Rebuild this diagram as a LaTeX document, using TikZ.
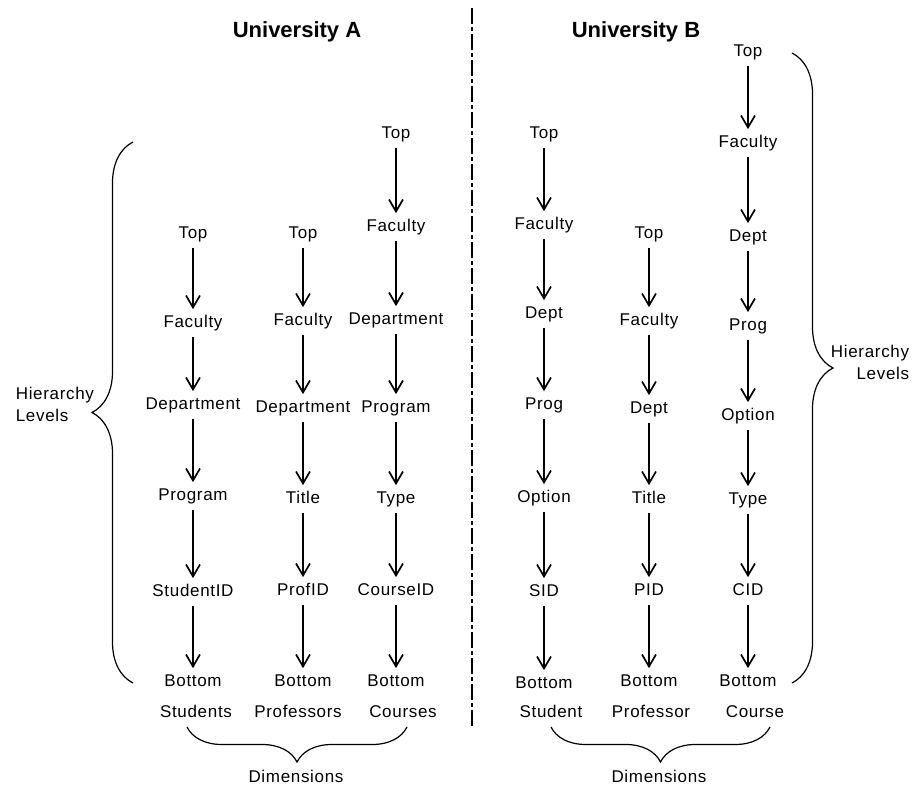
\documentclass[tikz,border=0pt]{standalone}
\usepackage{fontspec}
\setmainfont{Liberation Sans}
\newfontfamily\lvlfont{Liberation Sans}[LetterSpace=4]
\usetikzlibrary{arrows.meta,decorations.pathreplacing}
\tikzset{
    lvl/.style={font=\lvlfont\fontsize{17}{22}\selectfont,
        inner sep=0pt, text height=12pt, text depth=3pt, minimum height=26pt},
    note/.style={font=\lvlfont\fontsize{17}{22}\selectfont, inner sep=0pt},
    uni/.style={font=\bfseries\fontsize{22}{24}\selectfont},
    brc/.style={decorate, line width=1.2pt},
}
\begin{document}
\begin{tikzpicture}[x=1pt,y=-1pt,>={Straight Barb[length=12pt,width=14pt]},
        line width=1.7pt]
    \useasboundingbox (0,0) rectangle (914,790);
    % titles and separator
    \node[uni] (unia) at (297,32) {University A};
    \node[uni] (unib) at (636,32) {University B};
    \draw[line width=1.5pt, dash pattern=on 16pt off 3pt on 4pt off 3pt]
        (472,8) -- (472,728);
    % University A
    \node[lvl] (a1top) at (193,234) {Top};
    \node[lvl] (a1fac) at (193,323) {Faculty};
    \node[lvl] (a1dep) at (193,405) {Department};
    \node[lvl] (a1prg) at (193,496) {Program};
    \node[lvl] (a1sid) at (193,592) {StudentID};
    \node[lvl] (a1bot) at (193,682) {Bottom};
    \node[lvl] (a2top) at (303,234) {Top};
    \node[lvl] (a2fac) at (303,321) {Faculty};
    \node[lvl] (a2dep) at (303,408) {Department};
    \node[lvl] (a2tit) at (303,499) {Title};
    \node[lvl] (a2pid) at (303,591) {ProfID};
    \node[lvl] (a2bot) at (303,682) {Bottom};
    \node[lvl] (a3top) at (396,134) {Top};
    \node[lvl] (a3fac) at (396,227) {Faculty};
    \node[lvl] (a3dep) at (396,320) {Department};
    \node[lvl] (a3prg) at (396,408) {Program};
    \node[lvl] (a3typ) at (396,499) {Type};
    \node[lvl] (a3cid) at (396,591) {CourseID};
    \node[lvl] (a3bot) at (396,682) {Bottom};
    \draw[->] (a1top) -- (a1fac); \draw[->] (a1fac) -- (a1dep);
    \draw[->] (a1dep) -- (a1prg); \draw[->] (a1prg) -- (a1sid);
    \draw[->] (a1sid) -- (a1bot);
    \draw[->] (a2top) -- (a2fac); \draw[->] (a2fac) -- (a2dep);
    \draw[->] (a2dep) -- (a2tit); \draw[->] (a2tit) -- (a2pid);
    \draw[->] (a2pid) -- (a2bot);
    \draw[->] (a3top) -- (a3fac); \draw[->] (a3fac) -- (a3dep);
    \draw[->] (a3dep) -- (a3prg); \draw[->] (a3prg) -- (a3typ);
    \draw[->] (a3typ) -- (a3cid); \draw[->] (a3cid) -- (a3bot);
    \node[lvl] (a1dim) at (196,713) {Students};
    \node[lvl] (a2dim) at (298,713) {Professors};
    \node[lvl] (a3dim) at (403,713) {Courses};
    % University B
    \node[lvl] (b1top) at (544,134) {Top};
    \node[lvl] (b1fac) at (544,225) {Faculty};
    \node[lvl] (b1dep) at (544,314) {Dept};
    \node[lvl] (b1prg) at (544,405) {Prog};
    \node[lvl] (b1opt) at (544,498) {Option};
    \node[lvl] (b1sid) at (544,592) {SID};
    \node[lvl] (b1bot) at (544,684) {Bottom};
    \node[lvl] (b2top) at (649,234) {Top};
    \node[lvl] (b2fac) at (649,321) {Faculty};
    \node[lvl] (b2dep) at (649,409) {Dept};
    \node[lvl] (b2tit) at (649,499) {Title};
    \node[lvl] (b2pid) at (649,591) {PID};
    \node[lvl] (b2bot) at (649,682) {Bottom};
    \node[lvl] (b3top) at (748,52) {Top};
    \node[lvl] (b3fac) at (748,143) {Faculty};
    \node[lvl] (b3dep) at (748,237) {Dept};
    \node[lvl] (b3prg) at (748,326) {Prog};
    \node[lvl] (b3opt) at (748,416) {Option};
    \node[lvl] (b3typ) at (748,500) {Type};
    \node[lvl] (b3cid) at (748,591) {CID};
    \node[lvl] (b3bot) at (748,682) {Bottom};
    \draw[->] (b1top) -- (b1fac); \draw[->] (b1fac) -- (b1dep);
    \draw[->] (b1dep) -- (b1prg); \draw[->] (b1prg) -- (b1opt);
    \draw[->] (b1opt) -- (b1sid); \draw[->] (b1sid) -- (b1bot);
    \draw[->] (b2top) -- (b2fac); \draw[->] (b2fac) -- (b2dep);
    \draw[->] (b2dep) -- (b2tit); \draw[->] (b2tit) -- (b2pid);
    \draw[->] (b2pid) -- (b2bot);
    \draw[->] (b3top) -- (b3fac); \draw[->] (b3fac) -- (b3dep);
    \draw[->] (b3dep) -- (b3prg); \draw[->] (b3prg) -- (b3opt);
    \draw[->] (b3opt) -- (b3typ); \draw[->] (b3typ) -- (b3cid);
    \draw[->] (b3cid) -- (b3bot);
    \node[lvl] (b1dim) at (551,713) {Student};
    \node[lvl] (b2dim) at (651,713) {Professor};
    \node[lvl] (b3dim) at (755,713) {Course};
    % braces
    \draw[brc, decoration={brace,amplitude=41pt}] (133,683) -- (133,142);
    \draw[brc, decoration={brace,amplitude=41pt}] (792,53) -- (792,683);
    \draw[brc, decoration={brace,amplitude=35pt}] (407,727) -- (187,727);
    \draw[brc, decoration={brace,amplitude=35pt}] (770,727) -- (551,727);
    \node[note, anchor=west, align=left] (hiera) at (15,404) {Hierarchy\\Levels};
    \node[note, anchor=east, align=right] (hierb) at (910,362) {Hierarchy\\Levels};
    \node[lvl] (dima) at (296,778) {Dimensions};
    \node[lvl] (dimb) at (659,778) {Dimensions};
\end{tikzpicture}
\end{document}
